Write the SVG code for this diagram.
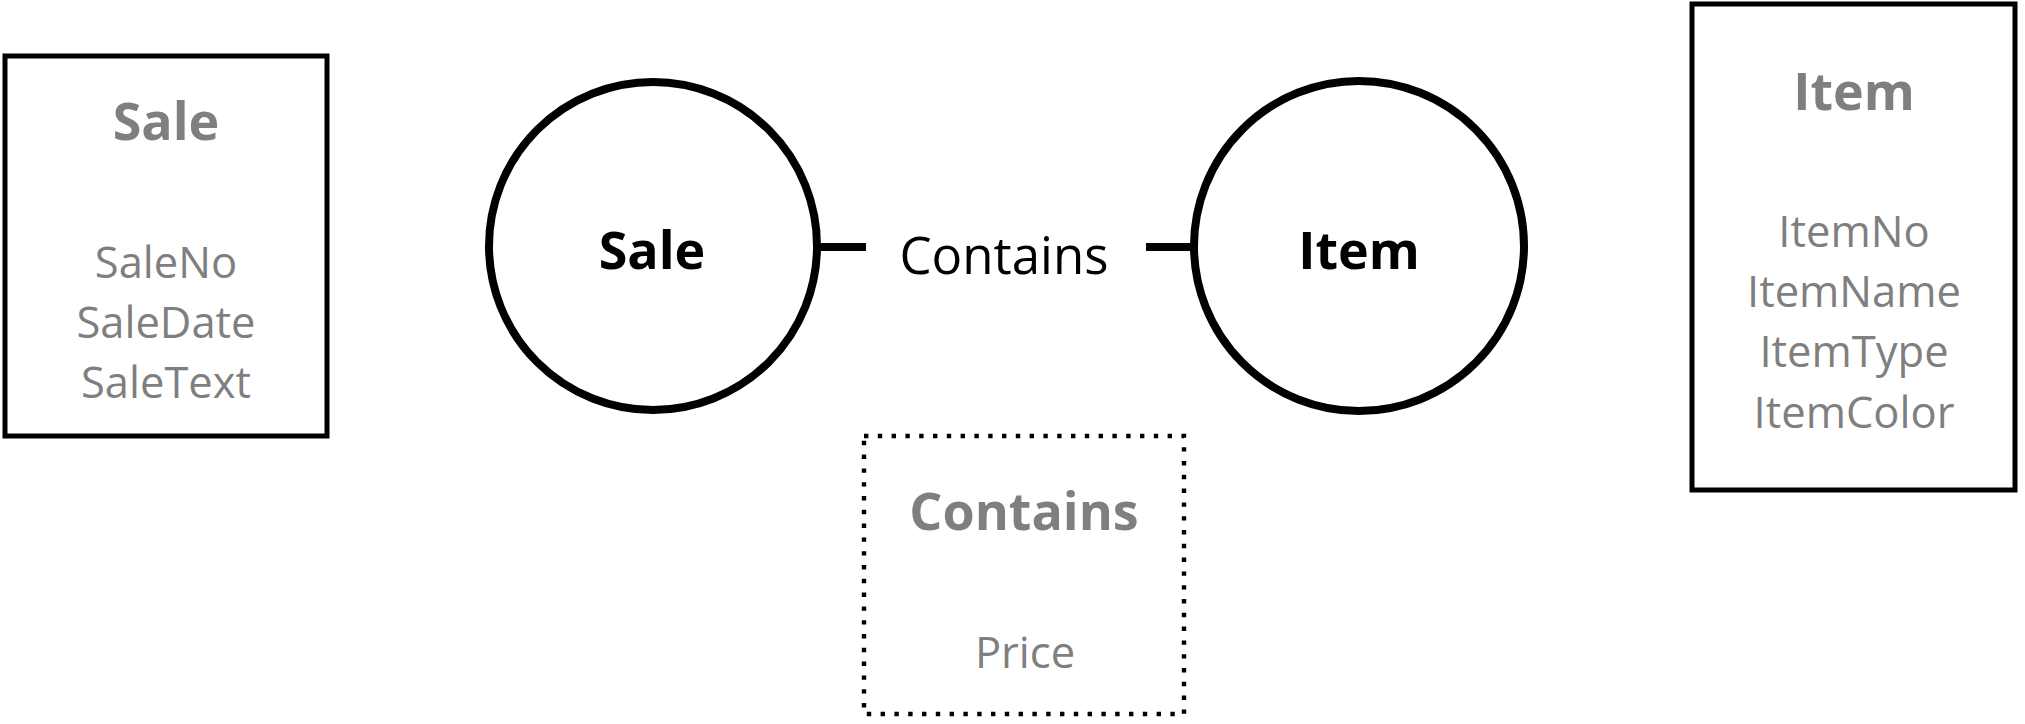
<svg xmlns="http://www.w3.org/2000/svg" width="2025" height="724" viewBox="0 0 2025 724">
<style>
.box{fill:#fff;stroke:#000;stroke-width:5}
.dot{fill:#fff;stroke:#000;stroke-width:4.4;stroke-dasharray:4.4 9.4}
.ent{fill:#fff;stroke:#000;stroke-width:8}
.conn{stroke:#000;stroke-width:8}
text{font-family:"Open Sans","Noto Sans","Liberation Sans",sans-serif;text-anchor:middle}
.title{font-weight:bold;font-size:52px;fill:#7f7f7f}
.attr{font-size:43.5px;fill:#7f7f7f}
.lbl{font-weight:bold;font-size:52px;fill:#000}
.rel{font-size:51px;fill:#000}
</style>
<g id="connectors">
<line class="conn" x1="818" y1="247" x2="866" y2="247"/>
<line class="conn" x1="1146" y1="247" x2="1194" y2="247"/>
<text class="rel" x="1004" y="274">Contains</text>
</g>
<g id="sale-table">
<rect class="box" x="5" y="56" width="322" height="380"/>
<text class="title" x="166" y="140">Sale</text>
<text class="attr" x="166" y="278">SaleNo</text>
<text class="attr" x="166" y="338">SaleDate</text>
<text class="attr" x="166" y="398">SaleText</text>
</g>
<g id="sale-entity">
<circle class="ent" cx="653" cy="246" r="164"/>
<text class="lbl" x="652" y="269">Sale</text>
</g>
<g id="item-entity">
<circle class="ent" cx="1359" cy="246" r="165"/>
<text class="lbl" x="1359" y="269">Item</text>
</g>
<g id="item-table">
<rect class="box" x="1692" y="4" width="323" height="486"/>
<text class="title" x="1854" y="110">Item</text>
<text class="attr" x="1854" y="247">ItemNo</text>
<text class="attr" x="1854" y="307">ItemName</text>
<text class="attr" x="1854" y="367">ItemType</text>
<text class="attr" x="1854" y="428">ItemColor</text>
</g>
<g id="contains-table">
<rect class="dot" x="864" y="436" width="320" height="278"/>
<text class="title" x="1024" y="530">Contains</text>
<text class="attr" x="1025" y="668">Price</text>
</g>
</svg>
